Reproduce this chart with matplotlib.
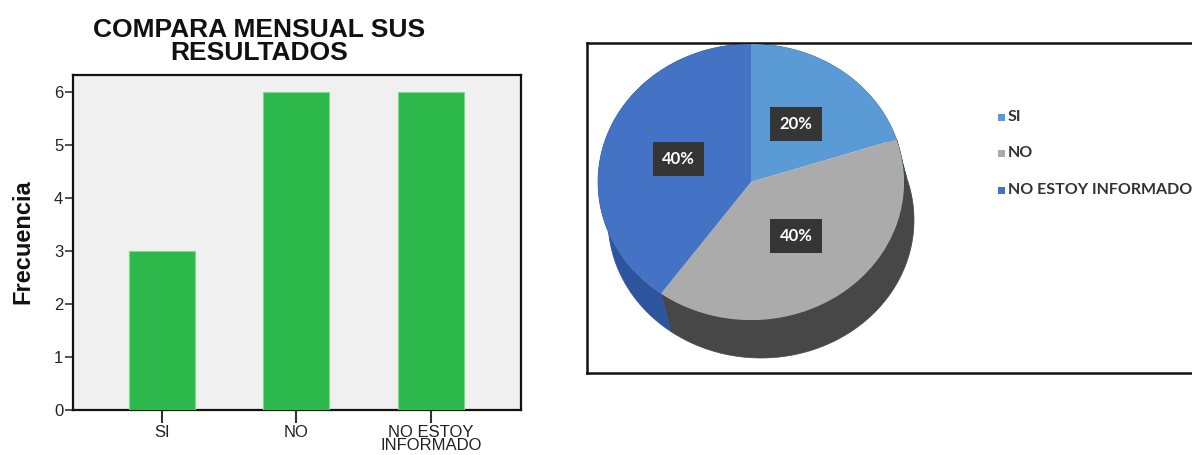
import numpy as np
import matplotlib
matplotlib.use("Agg")
import matplotlib.pyplot as plt
from matplotlib.patches import Polygon, Rectangle
from matplotlib.transforms import Affine2D

# ---- data ----
categories = ["SI", "NO", "NO ESTOY\nINFORMADO"]
frecuencias = [3, 6, 6]
pie_labels = ["SI", "NO", "NO ESTOY INFORMADO"]
pie_values = [20, 40, 40]
y_ticks = [0, 1, 2, 3, 4, 5, 6]

W, H = 1192, 455
fig = plt.figure(figsize=(W / 100, H / 100), dpi=100)
fig.patch.set_facecolor("white")

def fx(px):
    return px / W

def fy(py):
    return 1 - py / H

# ---------------- bar chart ----------------
ax = fig.add_axes([fx(73), fy(410), fx(521) - fx(73), fy(75) - fy(410)])
ax.set_facecolor("#F0F0F0")
x = np.arange(len(categories))
ax.bar(x, frecuencias, width=0.49, color="#2DB84B", edgecolor="#7ED98C",
       linewidth=0.8, zorder=3)
ax.set_xlim(-0.66, 2.67)
ax.set_ylim(0, 6.33)
ax.set_yticks(y_ticks)
ax.set_xticks(x)
ax.set_xticklabels(categories, fontsize=12, family="Liberation Sans",
                   color="#222222", linespacing=0.85)
ax.set_yticklabels([str(t) for t in y_ticks], fontsize=12,
                   family="Liberation Sans", color="#222222")
ax.tick_params(axis="y", direction="out", length=6, width=1.2, pad=1,
               color="#333333")
ax.tick_params(axis="x", direction="out", length=9, width=1.5, pad=2,
               color="#333333")
for s in ax.spines.values():
    s.set_color("#111111")
    s.set_linewidth(1.6)

fig.text(fx(259), fy(18), "COMPARA MENSUAL SUS\nRESULTADOS", ha="center",
         va="top", fontsize=19, fontweight="bold", family="Liberation Sans",
         linespacing=0.95, color="#111111")
fig.text(fx(23), fy(242), "Frecuencia", rotation=90, ha="center",
         va="center", fontsize=17, fontweight="bold",
         family="Liberation Sans", color="#111111")

# ---------------- 3D-style pie ----------------
pax = fig.add_axes([fx(587), fy(373), 1.02 - fx(587), fy(43) - fy(373)])
x_lo, x_hi = 587, 587 + (1.02 - fx(587)) * W
y_lo, y_hi = H - 373, H - 43

cx, cy = 751, H - 182
rx, ry = 153, 138
shift_x, shift_z = 10, 38

top_colors = ["#5B9BD5", "#ABABAB", "#4472C4"]
side_colors = ["#3F73A6", "#474747", "#2D559E"]

total = float(sum(pie_values))
angles = []
start = 90.0
for v in pie_values:
    sweep = 360.0 * v / total
    angles.append((start - sweep, start))
    start -= sweep

def arc(t1, t2, ox=0.0, oy=0.0, n=120):
    t = np.radians(np.linspace(t1, t2, n))
    return np.column_stack([cx + ox + rx * np.cos(t), cy + oy + ry * np.sin(t)])

# extruded sides
for (t1, t2), col in zip(angles, side_colors):
    top = arc(t1, t2)
    bot = arc(t1, t2, shift_x, -shift_z)[::-1]
    pax.add_patch(Polygon(np.vstack([top, bot]), closed=True, facecolor=col,
                          edgecolor=col, linewidth=0.5, zorder=2))

# top faces
wedges, _ = pax.pie(pie_values, colors=top_colors, startangle=90,
                    counterclock=False, center=(cx, cy), radius=rx,
                    frame=True, wedgeprops=dict(linewidth=0))
squash = Affine2D().translate(-cx, -cy).scale(1, ry / rx).translate(cx, cy)
for w in wedges:
    w.set_transform(squash + pax.transData)
    w.set_zorder(4)
pax.set_aspect("auto")
pax.set_xlim(x_lo, x_hi)
pax.set_ylim(y_lo, y_hi)
pax.set_xticks([])
pax.set_yticks([])
for side in ["left", "top", "bottom", "right"]:
    pax.spines[side].set_color("#111111")
    pax.spines[side].set_linewidth(1.8)

# percentage labels
for (t1, t2), v in zip(angles, pie_values):
    mid = np.radians((t1 + t2) / 2)
    tx = cx + 0.5 * rx * np.cos(mid)
    ty = cy + 0.5 * ry * np.sin(mid)
    pax.text(tx, ty + 2, f"{v / total * 100:.0f}%", ha="center", va="center",
             fontsize=12, fontweight="bold", family="Lato", color="white",
             zorder=6,
             bbox=dict(boxstyle="square,pad=0.55", facecolor="#353535",
                       edgecolor="none"))

# legend
leg_y = [117, 153, 190]
for lab, col, ly in zip(pie_labels, top_colors, leg_y):
    pax.add_patch(Rectangle((998, H - ly - 3.5), 7, 7, facecolor=col,
                            edgecolor="none", zorder=6))
    pax.text(1008, H - ly, lab, ha="left", va="center", fontsize=11.5,
             fontweight="bold", family="Lato", color="#333333", zorder=6)

fig.savefig("out.png", dpi=100)
